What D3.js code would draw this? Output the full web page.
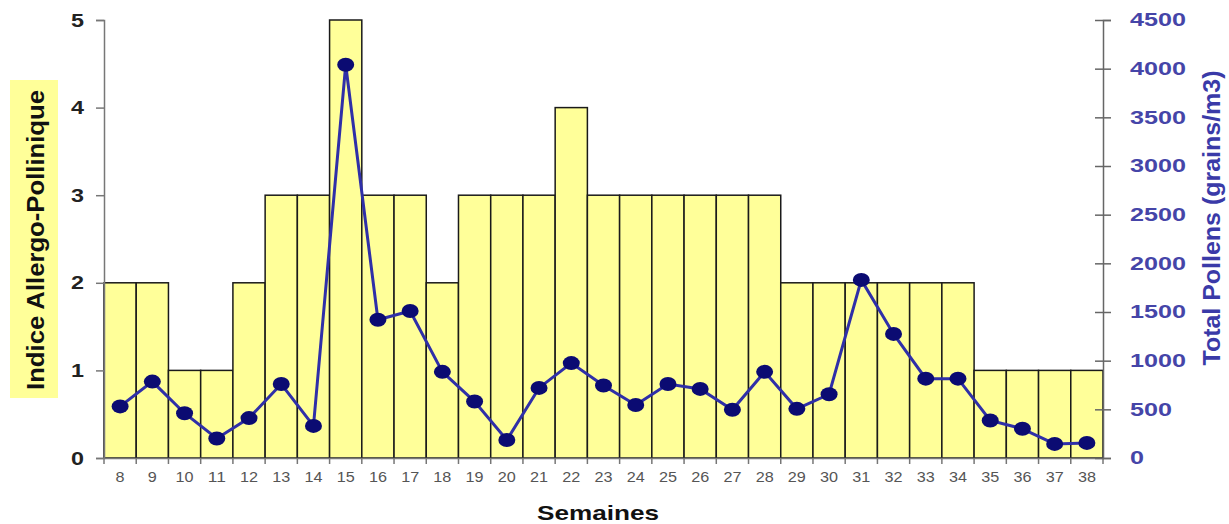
<!DOCTYPE html>
<html>
<head>
<meta charset="utf-8">
<script src="https://cdnjs.cloudflare.com/ajax/libs/d3/7.8.5/d3.min.js"></script>
<style>
  body { margin: 0; background: #fff; }
  svg { font-family: Arial, "Liberation Sans", sans-serif; }
</style>
</head>
<body>
<div id="chart"></div>
<script>
var weeks = [8,9,10,11,12,13,14,15,16,17,18,19,20,21,22,23,24,25,26,27,28,29,30,31,32,33,34,35,36,37,38];
var indice = [2,2,1,1,2,3,3,5,3,3,2,3,3,3,4,3,3,3,3,3,3,2,2,2,2,2,2,1,1,1,1];
var pollens = [530,785,460,200,410,760,330,4040,1420,1510,885,580,185,720,975,745,545,760,710,495,885,505,655,1830,1275,815,815,385,300,145,155];
var leftTicks = [0,1,2,3,4,5];
var rightTicks = [0,500,1000,1500,2000,2500,3000,3500,4000,4500];

var margin = {top: 20, right: 126, bottom: 66, left: 104},
    width = 1229 - margin.left - margin.right,
    height = 524 - margin.top - margin.bottom;

var svg = d3.select("#chart").append("svg")
    .attr("width", 1229)
    .attr("height", 524)
    .append("g")
    .attr("transform", "translate(" + margin.left + "," + margin.top + ")");

var x_scale = d3.scaleBand()
    .domain(weeks)
    .range([0, width])
    .padding(0);

var y_left = d3.scaleLinear().domain([0, 5]).range([height, 0]);
var y_right = d3.scaleLinear().domain([0, 4500]).range([height, 0]);

// bars
svg.selectAll("rect.bar")
    .data(weeks)
    .enter().append("rect")
    .attr("class", "bar")
    .attr("x", function(d) { return x_scale(d); })
    .attr("width", x_scale.bandwidth())
    .attr("y", function(d, i) { return y_left(indice[i]); })
    .attr("height", function(d, i) { return height - y_left(indice[i]); })
    .attr("fill", "#ffff99")
    .attr("stroke", "#1a1a1a")
    .attr("stroke-width", 1.5);

// left axis
var gl = svg.append("g")
    .call(d3.axisLeft(y_left).tickValues(leftTicks).tickFormat(d3.format("d")).tickSize(8).tickPadding(12));
gl.select(".domain").attr("stroke", "#777").attr("stroke-width", 1.5);
gl.selectAll(".tick line").attr("stroke", "#777").attr("stroke-width", 1.5);
gl.selectAll("text").attr("font-size", 19).attr("font-weight", "bold").attr("fill", "#222")
    .attr("textLength", 13).attr("lengthAdjust", "spacingAndGlyphs");

// bottom axis, ticks between bars
var gb = svg.append("g")
    .attr("transform", "translate(0," + height + ")")
    .call(d3.axisBottom(x_scale).tickSize(0).tickPadding(13));
gb.select(".domain").attr("stroke", "#777").attr("stroke-width", 1.5);
gb.selectAll("text").attr("font-size", 15).attr("fill", "#555")
    .attr("textLength", function(d) { return String(d).length * 9; })
    .attr("lengthAdjust", "spacingAndGlyphs");
gb.selectAll("line.sep")
    .data(weeks.concat([null]))
    .enter().append("line")
    .attr("class", "sep")
    .attr("x1", function(d, i) { return i * x_scale.step(); })
    .attr("x2", function(d, i) { return i * x_scale.step(); })
    .attr("y1", 0).attr("y2", 6)
    .attr("stroke", "#777").attr("stroke-width", 1.5);

// right axis
var gr = svg.append("g")
    .attr("transform", "translate(" + width + ",0)")
    .call(d3.axisRight(y_right).tickValues(rightTicks).tickFormat(d3.format("d")).tickSize(8).tickPadding(19));
gr.select(".domain").attr("stroke", "#666").attr("stroke-width", 1.5);
gr.selectAll(".tick line").attr("x1", -8).attr("stroke", "#666").attr("stroke-width", 1.5);
gr.selectAll("text").attr("font-size", 18).attr("font-weight", "bold").attr("fill", "#4545a8")
    .attr("textLength", function(d) { return String(d).length * 14; })
    .attr("lengthAdjust", "spacingAndGlyphs");

// the line
var cx = function(d, i) { return x_scale(weeks[i]) + x_scale.bandwidth() / 2; };
svg.append("path")
    .datum(pollens)
    .attr("fill", "none")
    .attr("stroke", "#2f2fa8")
    .attr("stroke-width", 3)
    .attr("d", d3.line()
        .x(cx)
        .y(function(d) { return y_right(d); }));

svg.selectAll("ellipse.pt")
    .data(pollens)
    .enter().append("ellipse")
    .attr("class", "pt")
    .attr("cx", cx)
    .attr("cy", function(d) { return y_right(d); })
    .attr("rx", 8.5)
    .attr("ry", 7)
    .attr("fill", "#0b0b72");

// axis titles
svg.append("rect")
    .attr("x", 10 - margin.left)
    .attr("y", 80 - margin.top)
    .attr("width", 48)
    .attr("height", 318)
    .attr("fill", "#ffff99");

svg.append("text")
    .attr("transform", "translate(" + (36 - margin.left) + "," + (240 - margin.top) + ") rotate(-90)")
    .attr("text-anchor", "middle")
    .attr("dominant-baseline", "central")
    .attr("font-size", 23)
    .attr("font-weight", "bold")
    .attr("fill", "#111")
    .attr("textLength", 300)
    .attr("lengthAdjust", "spacingAndGlyphs")
    .text("Indice Allergo-Pollinique");

svg.append("text")
    .attr("transform", "translate(" + (1212 - margin.left) + "," + (218 - margin.top) + ") rotate(-90)")
    .attr("text-anchor", "middle")
    .attr("dominant-baseline", "central")
    .attr("font-size", 23)
    .attr("font-weight", "bold")
    .attr("fill", "#3a3aa8")
    .attr("textLength", 295)
    .attr("lengthAdjust", "spacingAndGlyphs")
    .text("Total Pollens (grains/m3)");

svg.append("text")
    .attr("x", 598 - margin.left)
    .attr("y", 512 - margin.top)
    .attr("text-anchor", "middle")
    .attr("dominant-baseline", "central")
    .attr("font-size", 21)
    .attr("font-weight", "bold")
    .attr("fill", "#111")
    .attr("textLength", 122)
    .attr("lengthAdjust", "spacingAndGlyphs")
    .text("Semaines");
</script>
</body>
</html>
